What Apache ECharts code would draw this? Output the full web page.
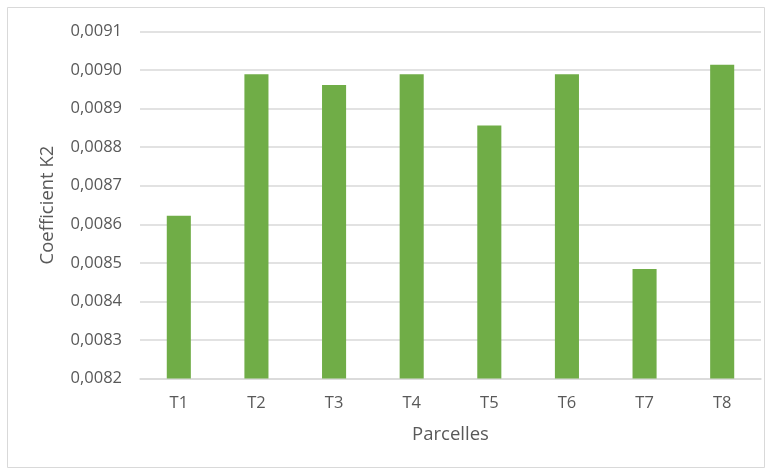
<!DOCTYPE html>
<html>
<head>
<meta charset="utf-8">
<script src="https://cdn.jsdelivr.net/npm/echarts@6/dist/echarts.min.js"></script>
<style>
  html, body { margin: 0; padding: 0; background: #fff; }
  #chart { width: 772px; height: 470px; }
</style>
</head>
<body>
<div id="chart"></div>
<script>
// Coefficient K2 per plot
const categories = ['T1', 'T2', 'T3', 'T4', 'T5', 'T6', 'T7', 'T8'];
const k2Values = [0.008622, 0.008989, 0.008961, 0.008989, 0.008856, 0.008989, 0.008484, 0.009014];
const yMin = 0.0082;
const yMax = 0.0091;
const yStep = 0.0001;
const xTitle = 'Parcelles';
const yTitle = 'Coefficient K2';

const font = '"Open Sans", "Liberation Sans", sans-serif';
const chart = echarts.init(document.getElementById('chart'));

chart.setOption({
  animation: false,
  backgroundColor: '#fff',
  graphic: [{
    type: 'rect',
    shape: { x: 7.5, y: 7.5, width: 757, height: 460 },
    style: { fill: 'none', stroke: '#d9d9d9', lineWidth: 1 },
    silent: true
  }],
  grid: { left: 140, right: 11, top: 31.5, bottom: 91.5 },
  xAxis: {
    type: 'category',
    data: categories,
    name: xTitle,
    nameLocation: 'middle',
    nameGap: 47,
    nameTextStyle: { color: '#595959', fontSize: 18.5, fontFamily: font },
    axisLine: { lineStyle: { color: '#d9d9d9', width: 1.5 } },
    axisTick: { show: false },
    axisLabel: { color: '#595959', fontSize: 16.5, fontFamily: font, margin: 16 }
  },
  yAxis: {
    type: 'value',
    min: yMin,
    max: yMax,
    interval: yStep,
    name: yTitle,
    nameLocation: 'middle',
    nameGap: 83,
    nameTextStyle: { color: '#595959', fontSize: 18.5, fontFamily: font },
    axisLine: { show: false },
    axisTick: { show: false },
    splitLine: { lineStyle: { color: '#d9d9d9', width: 1.5 } },
    axisLabel: {
      color: '#595959', fontSize: 16.5, fontFamily: font, margin: 18,
      formatter: v => v.toFixed(4).replace('.', ',')
    }
  },
  series: [{
    type: 'bar',
    data: k2Values,
    barWidth: '31%',
    itemStyle: { color: '#70ad47' }
  }]
});
</script>
</body>
</html>
